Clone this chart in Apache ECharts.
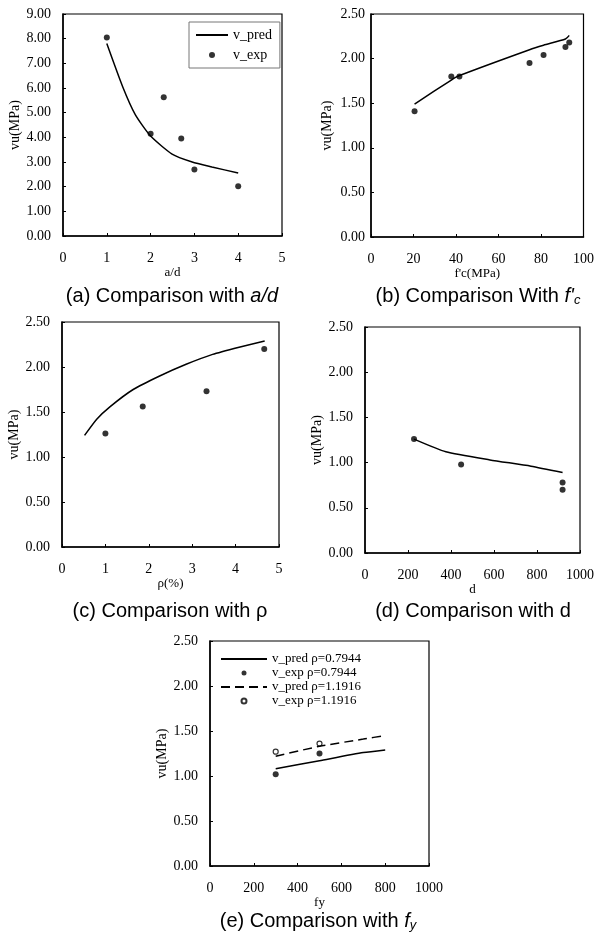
<!DOCTYPE html>
<html>
<head>
    <meta charset="utf-8">
    <title>vu comparison</title>
    <script src="https://cdn.jsdelivr.net/npm/echarts@6/dist/echarts.min.js"></script>
</head>
<body style="margin:0;background:#fff;">
<div id="main" style="width:597px;height:936px;"></div>
<script>
// (a) a/d
var adPredX = [1, 1.36, 1.65, 2, 2.49, 2.95, 3.4, 4];
var adPredY = [7.8, 6.06, 4.92, 4.05, 3.32, 3.0, 2.8, 2.55];
var adExpX = [1, 2, 2.3, 2.7, 3, 4];
var adExpY = [8.05, 4.15, 5.62, 3.95, 2.7, 2.02];

// (b) f'c
var fcPredX = [20.5, 37.8, 41.6, 74.6, 81.2, 91.5, 93.3];
var fcPredY = [1.49, 1.76, 1.81, 2.10, 2.15, 2.22, 2.26];
var fcExpX = [20.5, 37.8, 41.6, 74.6, 81.2, 91.5, 93.3];
var fcExpY = [1.41, 1.80, 1.80, 1.95, 2.04, 2.13, 2.18];

// (c) rho
var rhoPredX = [0.52, 0.8, 1.11, 1.64, 2.25, 2.86, 3.47, 4.08, 4.67];
var rhoPredY = [1.24, 1.42, 1.56, 1.75, 1.90, 2.03, 2.14, 2.22, 2.29];
var rhoExpX = [1.0, 1.86, 3.33, 4.66];
var rhoExpY = [1.26, 1.56, 1.73, 2.20];

// (d) d
var dPredX = [228, 376, 581, 772, 919];
var dPredY = [1.26, 1.12, 1.03, 0.96, 0.89];
var dExpX = [228, 447, 919, 919];
var dExpY = [1.26, 0.98, 0.78, 0.70];

// (e) fy
var fyPredX = [300, 500, 700, 800];
var fyPred1Y = [1.08, 1.17, 1.26, 1.29];
var fyPred2Y = [1.22, 1.33, 1.41, 1.45];
var fyExpX = [300, 500];
var fyExp1Y = [1.02, 1.25];
var fyExp2Y = [1.27, 1.36];

var yTicks9 = {min: 0, max: 9, interval: 1};
var yTicks25 = {min: 0, max: 2.5, interval: 0.5};
var xTicks = [
    {min: 0, max: 5, interval: 1},
    {min: 0, max: 100, interval: 20},
    {min: 0, max: 5, interval: 1},
    {min: 0, max: 1000, interval: 200},
    {min: 0, max: 1000, interval: 200}
];
var xNames = ['a/d', "f'c(MPa)", 'ρ(%)', 'd', 'fy'];

function zip(xs, ys) {
    return xs.map(function (x, i) { return [x, ys[i]]; });
}

var serif = 'Liberation Serif';
var sans = 'Liberation Sans';

var grids = [
    {left: 63, top: 14, width: 219, height: 222},
    {left: 371, top: 14, width: 215, height: 223},
    {left: 62, top: 322, width: 217, height: 225},
    {left: 365, top: 327, width: 217, height: 226},
    {left: 210, top: 641, width: 219, height: 225}
];

var xAxes = [], yAxes = [];
grids.forEach(function (g, i) {
    g.show = true;
    g.borderColor = '#000';
    g.borderWidth = 1.2;
    g.containLabel = false;
    xAxes.push({
        type: 'value', gridIndex: i,
        min: xTicks[i].min, max: xTicks[i].max, interval: xTicks[i].interval,
        name: xNames[i], nameLocation: 'middle', nameGap: 27,
        nameTextStyle: {fontFamily: serif, fontSize: 13, color: '#000'},
        axisLine: {lineStyle: {color: '#000', width: 1.5}},
        axisTick: {inside: true, length: 3, lineStyle: {color: '#000'}},
        axisLabel: {
            fontFamily: serif, fontSize: 14, color: '#000', margin: 15,
            formatter: function (v) { return String(v); }
        },
        splitLine: {show: false}
    });
    var yt = i === 0 ? yTicks9 : yTicks25;
    yAxes.push({
        type: 'value', gridIndex: i,
        min: yt.min, max: yt.max, interval: yt.interval,
        name: 'vu(MPa)', nameLocation: 'middle', nameGap: i === 1 ? 37 : 40,
        nameTextStyle: {fontFamily: serif, fontSize: 14, color: '#000'},
        axisLine: {lineStyle: {color: '#000', width: 1.5}},
        axisTick: {inside: true, length: 3, lineStyle: {color: '#000'}},
        axisLabel: {
            fontFamily: serif, fontSize: 14, color: '#000',
            margin: i === 1 ? 6 : 12,
            formatter: function (v) { return v.toFixed(2); }
        },
        splitLine: {show: false}
    });
});

function predLine(name, idx, data, dashed) {
    return {
        name: name, type: 'line', xAxisIndex: idx, yAxisIndex: idx,
        data: data, symbol: 'none', smooth: 0.2,
        lineStyle: {color: '#000', width: 1.5, type: dashed ? [9, 5] : 'solid'},
        itemStyle: {color: '#000'}
    };
}
function expDots(name, idx, data, open) {
    return {
        name: name, type: 'scatter', xAxisIndex: idx, yAxisIndex: idx,
        data: data, symbol: 'circle', symbolSize: open ? 5 : 6,
        itemStyle: open ? {color: '#fff', borderColor: '#000', borderWidth: 1.2} : {color: '#000'}
    };
}

var series = [
    predLine('v_pred', 0, zip(adPredX, adPredY)),
    expDots('v_exp', 0, zip(adExpX, adExpY)),
    predLine('v_pred', 1, zip(fcPredX, fcPredY)),
    expDots('v_exp', 1, zip(fcExpX, fcExpY)),
    predLine('v_pred', 2, zip(rhoPredX, rhoPredY)),
    expDots('v_exp', 2, zip(rhoExpX, rhoExpY)),
    predLine('v_pred', 3, zip(dPredX, dPredY)),
    expDots('v_exp', 3, zip(dExpX, dExpY)),
    predLine('v_pred ρ=0.7944', 4, zip(fyPredX, fyPred1Y)),
    expDots('v_exp ρ=0.7944', 4, zip(fyExpX, fyExp1Y)),
    predLine('v_pred ρ=1.1916', 4, zip(fyPredX, fyPred2Y), true),
    expDots('v_exp ρ=1.1916', 4, zip(fyExpX, fyExp2Y), true)
];

// line entries in the legends: hide the marker dot, keep the line
function lineItem(name) {
    return {name: name, itemStyle: {opacity: 0}};
}

var capRich = {
    n: {fontFamily: sans, fontSize: 20, color: '#000'},
    i: {fontFamily: sans, fontSize: 20, fontStyle: 'italic', color: '#000'},
    s: {fontFamily: sans, fontSize: 13, fontStyle: 'italic', color: '#000', padding: [8, 0, 0, 0]}
};
function caption(x, y, text) {
    return {
        type: 'text', x: x, y: y,
        style: {text: text, rich: capRich, align: 'center', verticalAlign: 'middle'}
    };
}

option = {
    backgroundColor: '#fff',
    animation: false,
    grid: grids,
    xAxis: xAxes,
    yAxis: yAxes,
    series: series,
    legend: [
        {
            data: [lineItem('v_pred'), 'v_exp'],
            orient: 'vertical', left: 189, top: 22,
            itemWidth: 32, itemHeight: 6, itemGap: 6,
            padding: [6, 8, 6, 6],
            borderColor: '#777', borderWidth: 1,
            selectedMode: false,
            textStyle: {fontFamily: serif, fontSize: 14, color: '#000'}
        },
        {
            data: [lineItem('v_pred ρ=0.7944'), 'v_exp ρ=0.7944', lineItem('v_pred ρ=1.1916'), 'v_exp ρ=1.1916'],
            orient: 'vertical', left: 216, top: 650,
            itemWidth: 46, itemHeight: 5, itemGap: 0,
            padding: [2, 4, 2, 4],
            selectedMode: false,
            textStyle: {fontFamily: serif, fontSize: 13, lineHeight: 14, color: '#000'}
        }
    ],
    graphic: [
        caption(172, 296, '{n|(a) Comparison with }{i|a/d}'),
        caption(478, 296, "{n|(b) Comparison With }{i|f'}{s|c}"),
        caption(170, 611, '{n|(c) Comparison with ρ}'),
        caption(473, 611, '{n|(d) Comparison with d}'),
        caption(318, 921, '{n|(e) Comparison with }{i|f}{s|y}')
    ]
};

var myChart = echarts.init(document.getElementById('main'));
myChart.setOption(option);
</script>
</body>
</html>
